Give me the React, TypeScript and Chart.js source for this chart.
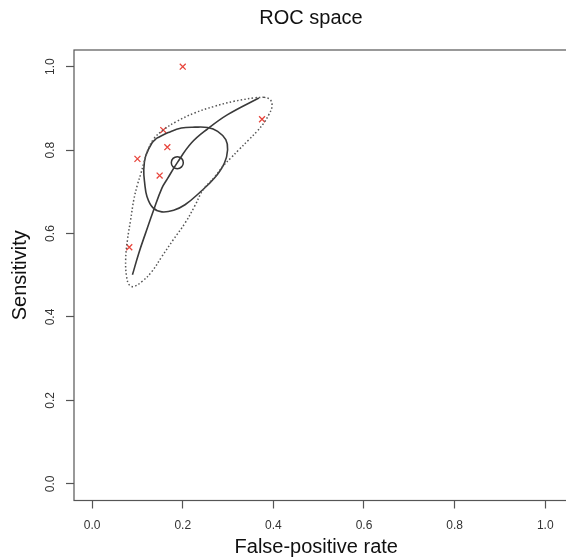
import React, { useEffect, useRef } from 'react';
import { Chart, registerables } from 'chart.js';

Chart.register(...registerables);

const FONT = '"Liberation Sans", Arial, Helvetica, sans-serif';

const chartTitle = 'ROC space';
const xAxisTitle = 'False-positive rate';
const yAxisTitle = 'Sensitivity';
const tickValues = [0, 0.2, 0.4, 0.6, 0.8, 1.0];

// individual studies (red crosses)
const studyFpr = [0.2, 0.375, 0.157, 0.166, 0.1, 0.149, 0.082];
const studySens = [1.0, 0.874, 0.848, 0.807, 0.779, 0.739, 0.567];

// summary estimate (open circle)
const summaryFpr = [0.188];
const summarySens = [0.77];

// SROC curve
const srocFpr = [0.089, 0.103, 0.118, 0.136, 0.154, 0.166, 0.188, 0.219, 0.255, 0.299, 0.368];
const srocSens = [0.501, 0.553, 0.601, 0.657, 0.709, 0.731, 0.77, 0.817, 0.851, 0.885, 0.925];

// confidence region (solid)
const confFpr = [0.143, 0.132, 0.118, 0.114, 0.116, 0.121, 0.134, 0.154, 0.18, 0.205, 0.238, 0.27, 0.292, 0.299, 0.295, 0.277, 0.255, 0.227, 0.197, 0.168, 0.143];
const confSens = [0.829, 0.817, 0.785, 0.753, 0.721, 0.689, 0.662, 0.652, 0.656, 0.669, 0.699, 0.733, 0.769, 0.801, 0.825, 0.845, 0.854, 0.855, 0.853, 0.842, 0.829];

// prediction region (dotted)
const predFpr = [0.379, 0.393, 0.397, 0.39, 0.379, 0.364, 0.346, 0.324, 0.306, 0.29, 0.27, 0.245, 0.226, 0.205, 0.179, 0.154, 0.132, 0.11, 0.092, 0.082, 0.076, 0.074, 0.078, 0.085, 0.092, 0.1, 0.108, 0.114, 0.122, 0.136, 0.158, 0.187, 0.226, 0.27, 0.313, 0.357, 0.379];
const predSens = [0.927, 0.921, 0.905, 0.885, 0.865, 0.845, 0.825, 0.801, 0.781, 0.763, 0.735, 0.705, 0.665, 0.625, 0.585, 0.545, 0.509, 0.485, 0.473, 0.477, 0.497, 0.537, 0.585, 0.633, 0.681, 0.717, 0.745, 0.769, 0.797, 0.827, 0.849, 0.869, 0.889, 0.905, 0.917, 0.925, 0.927];

const pts = (xs: number[], ys: number[]) => xs.map((x, i) => ({ x, y: ys[i] }));

const framePlugin = {
  id: 'frameAndTitle',
  afterDraw(chart: any) {
    const { ctx, chartArea: a } = chart;
    ctx.save();
    ctx.strokeStyle = '#555';
    ctx.lineWidth = 1.2;
    ctx.strokeRect(a.left, a.top, a.right - a.left + 10, a.bottom - a.top);
    ctx.fillStyle = '#111';
    ctx.font = `20px ${FONT}`;
    ctx.textAlign = 'center';
    ctx.textBaseline = 'middle';
    ctx.fillText(chartTitle, 311, 18);
    ctx.restore();
  },
};

export default function App() {
  const ref = useRef<HTMLCanvasElement | null>(null);

  useEffect(() => {
    if (!ref.current) return;
    Chart.defaults.font.family = FONT;
    const setTicks = (scale: any) => {
      scale.ticks = tickValues.map((v) => ({ value: v }));
    };
    const chart = new Chart(ref.current, {
      type: 'scatter',
      data: {
        datasets: [
          {
            label: 'Prediction region',
            data: pts(predFpr, predSens),
            showLine: true,
            borderColor: '#555',
            borderWidth: 1.5,
            borderDash: [1.5, 2.2],
            pointRadius: 0,
            tension: 0.4,
            fill: false,
          },
          {
            label: 'Confidence region',
            data: pts(confFpr, confSens),
            showLine: true,
            borderColor: '#3a3a3a',
            borderWidth: 1.6,
            pointRadius: 0,
            tension: 0.4,
            fill: false,
          },
          {
            label: 'SROC',
            data: pts(srocFpr, srocSens),
            showLine: true,
            borderColor: '#3a3a3a',
            borderWidth: 1.6,
            pointRadius: 0,
            tension: 0.4,
            fill: false,
          },
          {
            label: 'Studies',
            data: pts(studyFpr, studySens),
            pointStyle: 'crossRot',
            pointRadius: 4.2,
            pointBorderColor: '#e8453c',
            pointBackgroundColor: '#e8453c',
            pointBorderWidth: 1.3,
          },
          {
            label: 'Summary',
            data: pts(summaryFpr, summarySens),
            pointStyle: 'circle',
            pointRadius: 6,
            pointBorderColor: '#333',
            pointBackgroundColor: 'rgba(0,0,0,0)',
            pointBorderWidth: 1.5,
          },
        ],
      },
      options: {
        responsive: false,
        animation: false,
        events: [],
        layout: { padding: { top: 50, left: 0, right: 0, bottom: 0 } },
        plugins: {
          legend: { display: false },
          tooltip: { enabled: false },
          title: { display: false },
        },
        scales: {
          x: {
            type: 'linear',
            min: -0.04,
            max: 1.0293,
            afterBuildTicks: setTicks,
            afterFit: (s: any) => {
              s.height = 58.5;
            },
            border: { display: false },
            grid: {
              drawOnChartArea: false,
              drawTicks: true,
              tickLength: 8,
              tickColor: '#555',
              tickWidth: 1.2,
            },
            ticks: {
              color: '#333',
              font: { size: 12 },
              padding: 10,
              maxRotation: 0,
              callback: (v: any) => Number(v).toFixed(1),
            },
            title: {
              display: true,
              text: xAxisTitle,
              color: '#111',
              font: { size: 20 },
              padding: { top: 0, bottom: 0 },
            },
          },
          y: {
            type: 'linear',
            min: -0.04,
            max: 1.04,
            afterBuildTicks: setTicks,
            afterFit: (s: any) => {
              s.width = 74;
            },
            border: { display: false },
            grid: {
              drawOnChartArea: false,
              drawTicks: true,
              tickLength: 8,
              tickColor: '#555',
              tickWidth: 1.2,
            },
            ticks: {
              color: '#333',
              font: { size: 12 },
              padding: 7,
              minRotation: 90,
              maxRotation: 90,
              crossAlign: 'center',
              callback: (v: any) => Number(v).toFixed(1),
            },
            title: {
              display: true,
              text: yAxisTitle,
              color: '#111',
              font: { size: 20 },
              padding: { top: 8, bottom: 0 },
            },
          },
        },
      },
      plugins: [framePlugin],
    });
    return () => chart.destroy();
  }, []);

  return (
    <div style={{ position: 'absolute', left: 0, top: 0, width: 566, height: 559, background: '#fff' }}>
      <canvas ref={ref} width={566} height={559} style={{ display: 'block', width: 566, height: 559 }} />
    </div>
  );
}
